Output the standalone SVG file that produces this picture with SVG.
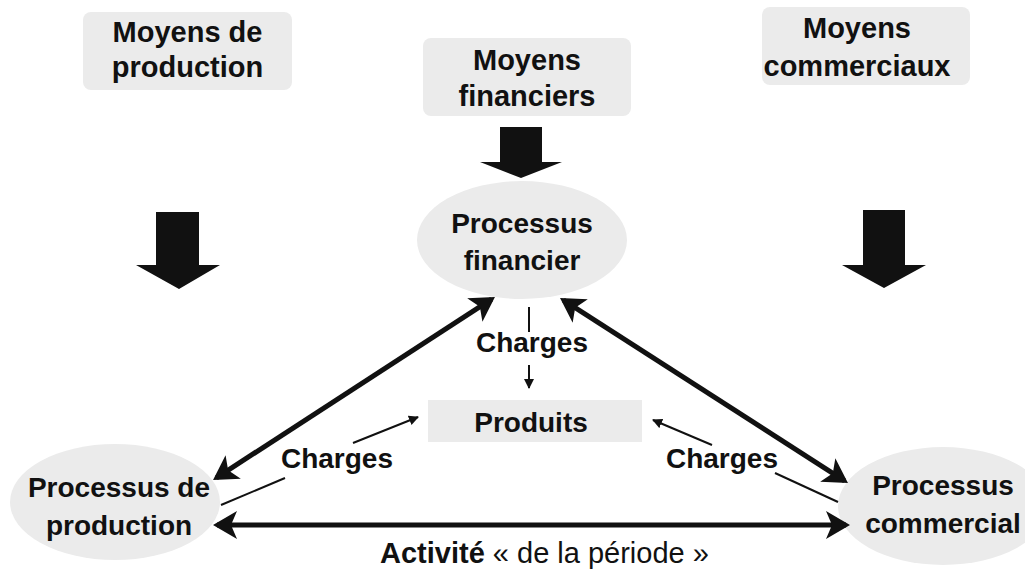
<svg xmlns="http://www.w3.org/2000/svg" width="1025" height="571" viewBox="0 0 1025 571">
  <style>
    .box { fill: #ebebeb; }
    .t { font-family: "Liberation Sans", Arial, sans-serif; font-weight: bold; fill: #111; text-anchor: middle; }
    .big { font-size: 29px; }
    .mid { font-size: 28px; }
    .block { fill: #111; }
    .thick { stroke: #111; stroke-width: 5; fill: none; }
    .thin { stroke: #111; stroke-width: 2; fill: none; }
  </style>
  <defs>
    <marker id="headThick" viewBox="0 0 24 28" refX="20" refY="14" markerWidth="24" markerHeight="28" markerUnits="userSpaceOnUse" orient="auto-start-reverse">
      <path d="M0,0 L24,14 L0,28 L6,14 z" fill="#111"/>
    </marker>
    <marker id="headThin" viewBox="0 0 10 10" refX="9" refY="5" markerWidth="10" markerHeight="10" markerUnits="userSpaceOnUse" orient="auto">
      <path d="M0,0 L10,5 L0,10 z" fill="#111"/>
    </marker>
  </defs>

  <!-- resource boxes -->
  <g id="moyens-production">
    <rect class="box" x="83" y="12" width="209" height="78" rx="8"/>
    <text class="t big" x="187.5" y="42">Moyens de</text>
    <text class="t big" x="187.5" y="77">production</text>
  </g>
  <g id="moyens-financiers">
    <rect class="box" x="423" y="38" width="208" height="78" rx="8"/>
    <text class="t big" x="527" y="70">Moyens</text>
    <text class="t big" x="527" y="106">financiers</text>
  </g>
  <g id="moyens-commerciaux">
    <rect class="box" x="762" y="7" width="208" height="78" rx="8"/>
    <text class="t big" x="857" y="38">Moyens</text>
    <text class="t big" x="857" y="76">commerciaux</text>
  </g>

  <!-- block arrows -->
  <g id="block-arrows">
    <path class="block" d="M156,212 H199 V265 H220 L179,289 L136,265 H156 Z"/>
    <path class="block" d="M500,127 H542 V162 H562 L521,178 L480,162 H500 Z"/>
    <path class="block" d="M863,210 H905 V265 H926 L884,288 L842,265 H863 Z"/>
  </g>

  <!-- processes -->
  <g id="processus-financier">
    <ellipse class="box" cx="522" cy="240" rx="105" ry="59"/>
    <text class="t mid" x="522" y="233">Processus</text>
    <text class="t mid" x="522" y="270">financier</text>
  </g>
  <g id="processus-production">
    <ellipse class="box" cx="115" cy="502" rx="105" ry="58"/>
    <text class="t mid" x="119" y="497">Processus de</text>
    <text class="t mid" x="119" y="535">production</text>
  </g>
  <g id="processus-commercial">
    <ellipse class="box" cx="943" cy="506" rx="105" ry="59"/>
    <text class="t mid" x="943" y="495">Processus</text>
    <text class="t mid" x="943" y="533">commercial</text>
  </g>
  <g id="produits">
    <rect class="box" x="428" y="400" width="214" height="42"/>
    <text class="t mid" x="531" y="432">Produits</text>
  </g>

  <!-- connectors -->
  <g id="connectors">
    <line class="thick" x1="216.4" y1="477.8" x2="491.6" y2="299.2" marker-start="url(#headThick)" marker-end="url(#headThick)"/>
    <line class="thick" x1="563.4" y1="300.2" x2="844.6" y2="480.8" marker-start="url(#headThick)" marker-end="url(#headThick)"/>
    <line class="thick" x1="217" y1="525" x2="846" y2="525" marker-start="url(#headThick)" marker-end="url(#headThick)"/>

    <line class="thin" x1="529" y1="307" x2="529" y2="332"/>
    <line class="thin" x1="529" y1="365" x2="529" y2="388" marker-end="url(#headThin)"/>

    <line class="thin" x1="221" y1="505" x2="285" y2="478"/>
    <line class="thin" x1="353" y1="443" x2="418" y2="417" marker-end="url(#headThin)"/>

    <line class="thin" x1="712" y1="445" x2="653" y2="420" marker-end="url(#headThin)"/>
    <line class="thin" x1="775" y1="473" x2="838" y2="502"/>

    <text class="t mid" x="532" y="352">Charges</text>
    <text class="t mid" x="337" y="468">Charges</text>
    <text class="t mid" x="722" y="468">Charges</text>
    <text class="t" x="380" y="563" style="text-anchor:start;font-size:29px;font-weight:normal">
      <tspan font-weight="bold">Activité</tspan> « de la période »</text>
  </g>
</svg>
